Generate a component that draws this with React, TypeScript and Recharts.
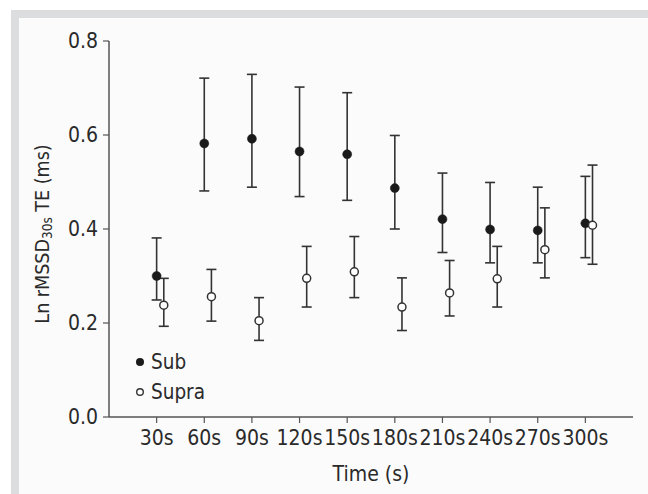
import React from 'react';
import { ScatterChart, Scatter, XAxis, YAxis, ErrorBar, Legend } from 'recharts';

const times = [30, 60, 90, 120, 150, 180, 210, 240, 270, 300];
const subMean = [0.300, 0.582, 0.592, 0.565, 0.559, 0.487, 0.421, 0.399, 0.397, 0.412];
const subHigh = [0.381, 0.721, 0.729, 0.702, 0.690, 0.599, 0.519, 0.499, 0.489, 0.512];
const subLow = [0.249, 0.481, 0.489, 0.469, 0.461, 0.400, 0.350, 0.328, 0.328, 0.339];
const supraMean = [0.238, 0.256, 0.205, 0.295, 0.309, 0.234, 0.264, 0.294, 0.356, 0.408];
const supraHigh = [0.295, 0.314, 0.254, 0.363, 0.384, 0.296, 0.333, 0.363, 0.445, 0.536];
const supraLow = [0.193, 0.204, 0.163, 0.234, 0.254, 0.184, 0.215, 0.234, 0.296, 0.325];
const yTicks = [0, 0.2, 0.4, 0.6, 0.8];
const SUPRA_SHIFT = 4.5;

const subData = times.map((t, i) => ({ x: t, y: subMean[i], err: [subMean[i] - subLow[i], subHigh[i] - subMean[i]] }));
const supraData = times.map((t, i) => ({ x: t + SUPRA_SHIFT, y: supraMean[i], err: [supraMean[i] - supraLow[i], supraHigh[i] - supraMean[i]] }));

const FONT = "'DejaVu Sans Condensed', 'Liberation Sans Narrow', sans-serif";
const INK = '#2a2a2a';

const SubDot = (p: any) => <circle cx={p.cx} cy={p.cy} r={4.5} fill="#1a1a1a" stroke="#1a1a1a" strokeWidth={0.5} />;
const SupraDot = (p: any) => <circle cx={p.cx} cy={p.cy} r={4} fill="#ffffff" stroke="#333" strokeWidth={1.5} />;

const YLabel = (props: any) => {
  const vb = props.viewBox || {};
  const cy = (vb.y || 0) + (vb.height || 0) / 2 + 5;
  const cx = 42;
  return (
    <text x={cx} y={cy} transform={`rotate(-90 ${cx} ${cy})`} textAnchor="middle" dominantBaseline="central"
      fontFamily={FONT} fontSize={19.5} fill={INK}>
      <tspan>Ln rMSSD</tspan>
      <tspan fontSize={13.5} dy={5}>30s</tspan>
      <tspan dy={-5}> TE (ms)</tspan>
    </text>
  );
};

const LegendContent = () => (
  <div style={{ fontFamily: FONT, fontSize: 20.5, color: INK, lineHeight: '30px' }}>
    <div style={{ display: 'flex', alignItems: 'center' }}>
      <svg width={12} height={12} style={{ marginRight: 5 }}><circle cx={6} cy={6} r={4} fill="#1a1a1a" /></svg>
      Sub
    </div>
    <div style={{ display: 'flex', alignItems: 'center' }}>
      <svg width={12} height={12} style={{ marginRight: 5 }}><circle cx={6} cy={6} r={3.3} fill="#fff" stroke="#333" strokeWidth={1.4} /></svg>
      Supra
    </div>
  </div>
);

export default function App() {
  return (
    <div style={{ position: 'fixed', left: 0, top: 0, width: 648, height: 494, background: '#fff', overflow: 'hidden' }}>
      <div style={{ position: 'absolute', left: 11, top: 10, width: 660, height: 500, background: '#dcdddf' }} />
      <div style={{ position: 'absolute', left: 19, top: 18, width: 660, height: 500, background: '#fbfbfb' }} />
      <div style={{ position: 'absolute', left: 0, top: 0 }}>
        <ScatterChart width={648} height={494} margin={{ top: 41, right: 15, bottom: 0, left: 0 }}>
          <XAxis type="number" dataKey="x" domain={[0, 330]} ticks={times} tickFormatter={(v: number) => `${v}s`}
            height={77} tickSize={6} tickMargin={7} axisLine={{ stroke: '#555', strokeWidth: 1.5 }}
            tickLine={{ stroke: '#555', strokeWidth: 1.2 }} interval={0}
            tick={{ fontFamily: FONT, fontSize: 21, fill: INK }}
            label={{ value: 'Time (s)', position: 'insideBottom', offset: 13, style: { fontFamily: FONT, fontSize: 21, fill: INK } }} />
          <YAxis type="number" dataKey="y" domain={[0, 0.8]} ticks={yTicks} tickFormatter={(v: number) => v.toFixed(1)}
            width={109} tickSize={6} tickMargin={5} axisLine={{ stroke: '#555', strokeWidth: 1.5 }}
            tickLine={{ stroke: '#555', strokeWidth: 1.2 }}
            tick={{ fontFamily: FONT, fontSize: 21, fill: INK }}
            label={<YLabel />} />
          <Legend layout="horizontal" align="center" verticalAlign="middle" wrapperStyle={{ left: 134, top: 347, width: 100 }}
            content={<LegendContent />} />
          <Scatter name="Sub" data={subData} shape={<SubDot />} isAnimationActive={false}>
            <ErrorBar dataKey="err" direction="y" width={5} stroke="#333" strokeWidth={1.6} />
          </Scatter>
          <Scatter name="Supra" data={supraData} shape={<SupraDot />} isAnimationActive={false}>
            <ErrorBar dataKey="err" direction="y" width={5} stroke="#333" strokeWidth={1.6} />
          </Scatter>
        </ScatterChart>
      </div>
    </div>
  );
}
